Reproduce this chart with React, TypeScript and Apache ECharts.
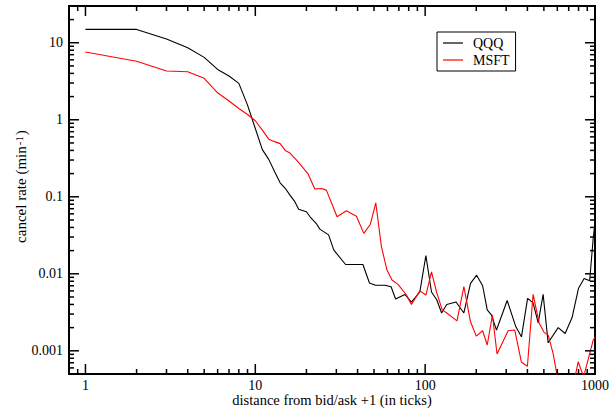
import React, { useEffect, useRef } from 'react';
import * as echarts from 'echarts';

// ---- data ----
const qqqX = [1, 2, 3, 4, 5, 6, 7, 8, 9, 10, 11, 12, 13, 14, 15, 16, 17, 18, 20, 21, 23, 24, 27, 29, 34, 43, 47, 51, 58, 63, 67, 76, 83, 93, 101, 109, 117, 125, 134, 152, 169, 185, 201, 218, 232, 246, 263, 304, 342, 369, 401, 432, 463, 495, 530, 607, 667, 733, 800, 863, 930, 976, 1000];
const qqqY = [14.9, 14.9, 11.2, 8.6, 6.46, 4.5, 3.7, 2.97, 1.55, 0.77, 0.41, 0.306, 0.211, 0.152, 0.129, 0.105, 0.088, 0.069, 0.064, 0.055, 0.044, 0.038, 0.032, 0.0203, 0.0132, 0.0132, 0.0076, 0.0071, 0.0071, 0.0068, 0.0047, 0.0054, 0.0043, 0.0058, 0.0172, 0.0058, 0.0046, 0.0031, 0.004, 0.0043, 0.0031, 0.0075, 0.0096, 0.007, 0.0034, 0.0029, 0.00186, 0.0045, 0.00205, 0.00152, 0.0048, 0.0042, 0.0023, 0.0054, 0.00127, 0.002, 0.00168, 0.0027, 0.0065, 0.0087, 0.0081, 0.0288, 0.047];
const msftX = [1, 2, 3, 4, 5, 6, 7, 8, 9, 10, 11, 12, 13, 14, 15, 16, 17.5, 20.4, 22.4, 24.5, 26.2, 30.3, 34.4, 39.4, 43.5, 47.6, 51.2, 55.3, 59.6, 63.8, 69.2, 77.6, 83, 93, 101, 109, 117, 126, 134, 154, 169, 185, 200, 218, 232, 249, 265, 308, 337, 369, 400, 432, 469, 500, 530, 567, 607, 667, 733, 796, 857, 976, 1000];
const msftY = [7.6, 5.74, 4.29, 4.2, 3.45, 2.24, 1.75, 1.4, 1.17, 0.97, 0.735, 0.56, 0.52, 0.49, 0.4, 0.37, 0.3, 0.2, 0.126, 0.128, 0.122, 0.055, 0.066, 0.056, 0.0335, 0.044, 0.0836, 0.0224, 0.0112, 0.0083, 0.0073, 0.0053, 0.004, 0.006, 0.0053, 0.0106, 0.0057, 0.0034, 0.0031, 0.00245, 0.0068, 0.00238, 0.00155, 0.00182, 0.00119, 0.0029, 0.00091, 0.00182, 0.00186, 0.00071, 0.00063, 0.0054, 0.0023, 0.00175, 0.0016, 0.00092, 0.0004, 0.0002, 0.0003, 0.00072, 0.00046, 0.00138, 0.0015];

const seriesNames = ['QQQ', 'MSFT'];

// axis ranges and tick values
const X_MIN = 0.8;
const X_MAX = 1000;
const Y_MIN = 0.0005;
const Y_MAX = 30;
const xMajorTicks = [1, 10, 100, 1000];
const xMinorTicks = [0.9, 2, 3, 4, 5, 6, 7, 8, 9, 20, 30, 40, 50, 60, 70, 80, 90, 200, 300, 400, 500, 600, 700, 800, 900];
const yMajorTicks = [0.001, 0.01, 0.1, 1, 10];
const yMinorTicks = [0.0006, 0.0007, 0.0008, 0.0009, 0.002, 0.003, 0.004, 0.005, 0.006, 0.007, 0.008, 0.009, 0.02, 0.03, 0.04, 0.05, 0.06, 0.07, 0.08, 0.09, 0.2, 0.3, 0.4, 0.5, 0.6, 0.7, 0.8, 0.9, 2, 3, 4, 5, 6, 7, 8, 9, 20];

const FONT = 'Liberation Serif';

export default function App() {
  const ref = useRef<HTMLDivElement>(null);

  useEffect(() => {
    if (!ref.current) return;
    const chart = echarts.init(ref.current, null, { renderer: 'svg' });

    const tickData = [
      ...xMajorTicks.map((v) => [v, Y_MIN, 0]),
      ...xMinorTicks.map((v) => [v, Y_MIN, 1]),
      ...yMajorTicks.map((v) => [X_MIN, v, 2]),
      ...yMinorTicks.map((v) => [X_MIN, v, 3]),
    ];

    const isPow10 = (v: number) => {
      const l = Math.log10(v);
      return Math.abs(l - Math.round(l)) < 1e-6;
    };
    const fmt = (v: number) => (isPow10(v) ? String(Number(v.toPrecision(6))) : '');

    const tickStyle = { stroke: '#000', lineWidth: 1.5 };

    chart.setOption({
      animation: false,
      textStyle: { fontFamily: FONT },
      grid: {
        left: 69,
        right: 14,
        top: 6,
        bottom: 35,
        containLabel: false,
        outerBoundsMode: 'none',
        show: true,
        borderColor: '#000',
        borderWidth: 2,
        backgroundColor: 'transparent',
      },
      xAxis: {
        type: 'log',
        logBase: 10,
        min: X_MIN,
        max: X_MAX,
        axisLine: { show: false },
        axisTick: { show: false },
        splitLine: { show: false },
        axisLabel: { formatter: fmt, margin: 4, color: '#000', fontFamily: FONT, fontSize: 14 },
        name: 'distance from bid/ask +1 (in ticks)',
        nameLocation: 'middle',
        nameGap: 18,
        nameMoveOverlap: false,
        nameTextStyle: { color: '#000', fontFamily: FONT, fontSize: 14.5 },
      },
      yAxis: {
        type: 'log',
        logBase: 10,
        min: Y_MIN,
        max: Y_MAX,
        axisLine: { show: false },
        axisTick: { show: false },
        splitLine: { show: false },
        axisLabel: { formatter: fmt, margin: 6, color: '#000', fontFamily: FONT, fontSize: 14 },
        name: '{a|cancel rate (min}{sup|-1}{a|)}',
        nameLocation: 'middle',
        nameGap: 41,
        nameMoveOverlap: false,
        nameTextStyle: {
          color: '#000',
          fontFamily: FONT,
          fontSize: 15,
          padding: [0, 0, 0, 7],
          rich: {
            a: { fontFamily: FONT, fontSize: 15, lineHeight: 15, verticalAlign: 'bottom', color: '#000' },
            sup: { fontFamily: FONT, fontSize: 11, lineHeight: 11, verticalAlign: 'top', padding: [0, 1, 10, 1], color: '#000' },
          },
        },
      },
      legend: {
        data: seriesNames.map((n) => ({ name: n, icon: 'rect' })),
        orient: 'vertical',
        left: 437,
        top: 32,
        borderColor: '#000',
        borderWidth: 1,
        borderRadius: 0,
        padding: [4, 6, 4, 6],
        itemWidth: 20,
        itemHeight: 1.2,
        itemGap: 3,
        selectedMode: false,
        textStyle: { fontFamily: FONT, fontSize: 14, lineHeight: 14, color: '#000', padding: [0, 0, 0, 5] },
      },
      series: [
        {
          name: seriesNames[0],
          type: 'line',
          data: qqqX.map((x, i) => [x, qqqY[i]]),
          symbol: 'none',
          lineStyle: { color: '#000000', width: 1.1 },
          itemStyle: { color: '#000000' },
          z: 3,
        },
        {
          name: seriesNames[1],
          type: 'line',
          data: msftX.map((x, i) => [x, msftY[i]]),
          symbol: 'none',
          lineStyle: { color: '#ff0000', width: 1.1 },
          itemStyle: { color: '#ff0000' },
          z: 4,
        },
        {
          type: 'custom',
          silent: true,
          clip: false,
          z: 10,
          data: tickData,
          renderItem: (params: any, api: any) => {
            const kind = api.value(2);
            const len = kind % 2 === 0 ? 10 : 5;
            if (kind < 2) {
              const v = api.value(0);
              const b = api.coord([v, Y_MIN]);
              const t = api.coord([v, Y_MAX]);
              return {
                type: 'group',
                children: [
                  { type: 'line', shape: { x1: b[0], y1: b[1], x2: b[0], y2: b[1] - len }, style: tickStyle },
                  { type: 'line', shape: { x1: t[0], y1: t[1], x2: t[0], y2: t[1] + len }, style: tickStyle },
                ],
              };
            }
            const v = api.value(1);
            const l = api.coord([X_MIN, v]);
            const r = api.coord([X_MAX, v]);
            return {
              type: 'group',
              children: [
                { type: 'line', shape: { x1: l[0], y1: l[1], x2: l[0] + len, y2: l[1] }, style: tickStyle },
                { type: 'line', shape: { x1: r[0], y1: r[1], x2: r[0] - len, y2: r[1] }, style: tickStyle },
              ],
            };
          },
        },
      ],
    });

    return () => chart.dispose();
  }, []);

  return (
    <div
      ref={ref}
      style={{ position: 'absolute', left: 0, top: 0, width: 609, height: 409, background: '#fff' }}
    />
  );
}
